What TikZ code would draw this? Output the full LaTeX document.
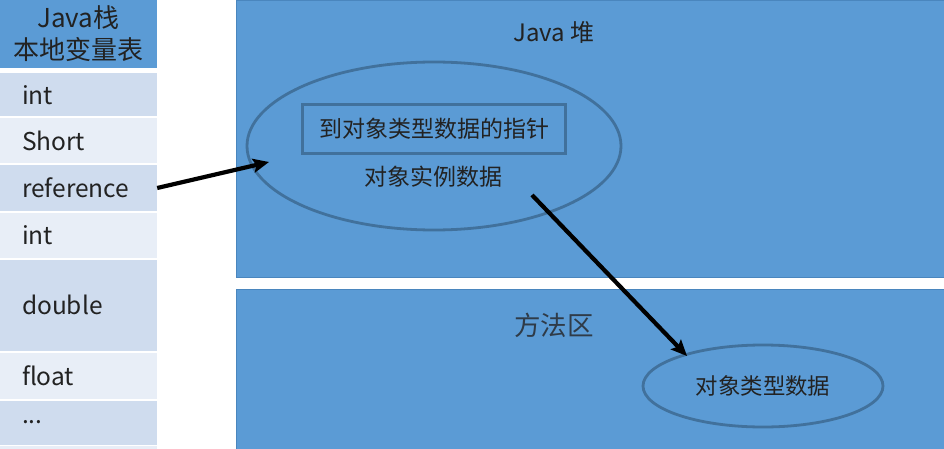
\documentclass[tikz,border=0pt]{standalone}
\usepackage{fontspec}
\setmainfont{Noto Sans CJK SC}
\usetikzlibrary{arrows.meta,shapes.geometric}
\definecolor{blu}{HTML}{5B9BD5}
\definecolor{blubd}{HTML}{4A86BE}
\definecolor{rowdark}{HTML}{CFDCEE}
\definecolor{rowlight}{HTML}{E8EEF7}
\definecolor{ovl}{HTML}{41719C}
\definecolor{txt}{HTML}{222222}
\definecolor{txtb}{HTML}{2F3B48}
\begin{document}
\begin{tikzpicture}[x=1pt,y=-1pt,
  rowbox/.style={rectangle, minimum width=157pt, text width=113pt, inner xsep=22pt, inner ysep=0pt, align=left, text=txt, font=\fontsize{24.5}{28}\selectfont},
  hdr/.style={rectangle, fill=blu, minimum width=157pt, minimum height=68pt, inner sep=0pt, align=center, text=txt, font=\fontsize{26}{32}\selectfont},
  area/.style={rectangle, fill=blu, draw=blubd, line width=0.8pt, anchor=north west, inner sep=0pt},
  oval/.style={ellipse, draw=ovl, line width=2.8pt, inner sep=0pt, text=txt},
  lbl/.style={text=txt, inner sep=0pt, font=\fontsize{23}{27}\selectfont},
  arr/.style={-{Stealth[length=16pt,width=14pt,inset=3pt]}, line width=4.2pt, black}
]
\useasboundingbox (0,0) rectangle (944,449);
% left column
\node[hdr] (hd) at (78.5,34) {Java栈\\本地变量表};
\node[rowbox, fill=rowdark, minimum height=43pt] (r1) at (78.5,95) {int};
\node[rowbox, fill=rowlight, minimum height=45pt] (r2) at (78.5,141) {Short};
\node[rowbox, fill=rowdark, minimum height=45pt] (r3) at (78.5,188) {reference};
\node[rowbox, fill=rowlight, minimum height=45pt] (r4) at (78.5,235) {int};
\node[rowbox, fill=rowdark, minimum height=91pt] (r5) at (78.5,305) {double};
\node[rowbox, fill=rowlight, minimum height=46pt] (r6) at (78.5,375.5) {float};
\node[rowbox, fill=rowdark, minimum height=44pt] (r7) at (78.5,422.5) {...};
\fill[rowlight] (0,446) rectangle (157,449);
% heap
\node[area, minimum width=708pt, minimum height=277pt] (heap) at (236,0) {};
\node[lbl, font=\fontsize{24}{28}\selectfont] (heapt) at (554,32) {Java 堆};
\node[oval, minimum width=374pt, minimum height=168pt] (obj) at (434,146) {};
\node[lbl, draw=ovl, line width=3pt, minimum width=263pt, minimum height=49pt] (ptr) at (434,129) {到对象类型数据的指针};
\node[lbl] (inst) at (433,177) {对象实例数据};
% method area
\node[area, minimum width=708pt, minimum height=160pt] (meth) at (236,289) {};
\node[lbl, text=txtb, font=\fontsize{26.5}{30}\selectfont] (metht) at (554,325) {方法区};
\node[oval, minimum width=240pt, minimum height=82pt, font=\fontsize{22.4}{26}\selectfont] (cls) at (763,386) {对象类型数据};
% arrows
\coordinate (a1) at (269,162);
\coordinate (a2s) at (532,195);
\coordinate (a2e) at (687,356);
\draw[arr] (r3.east) -- (a1);
\draw[arr] (a2s) -- (a2e);
\end{tikzpicture}
\end{document}
